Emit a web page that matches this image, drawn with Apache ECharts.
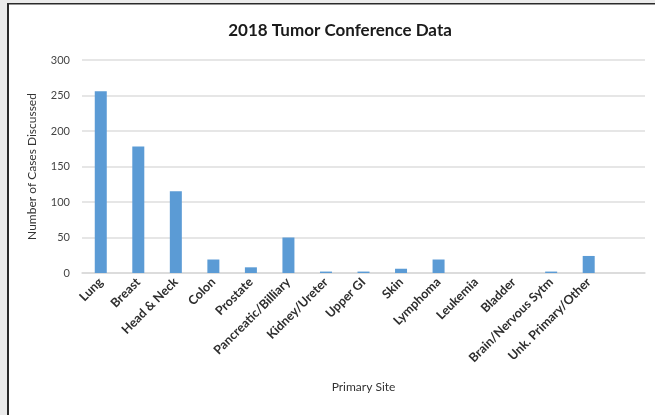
<!DOCTYPE html>
<html>
<head>
<meta charset="utf-8">
<script src="https://cdn.jsdelivr.net/npm/echarts@6/dist/echarts.min.js"></script>
<style>
  html, body { margin: 0; padding: 0; background: #fff; }
  #main { width: 655px; height: 415px; }
</style>
</head>
<body>
<div id="main"></div>
<script>
  var sites = ['Lung', 'Breast', 'Head & Neck', 'Colon', 'Prostate', 'Pancreatic/Billiary',
    'Kidney/Ureter', 'Upper GI', 'Skin', 'Lymphoma', 'Leukemia', 'Bladder',
    'Brain/Nervous Sytm', 'Unk. Primary/Other', ''];
  var cases = [256, 178, 115, 19, 8, 50, 2, 2, 6, 19, 0, 0, 2, 24, null];
  var yTicks = [0, 50, 100, 150, 200, 250, 300];

  var chart = echarts.init(document.getElementById('main'));
  var font = 'Lato, "Open Sans", sans-serif';
  var option = {
    animation: false,
    backgroundColor: '#fff',
    title: {
      text: '2018 Tumor Conference Data',
      left: 335, top: 17, textAlign: 'center',
      textStyle: { fontFamily: font, fontSize: 17, fontWeight: 'bold', color: '#1a1a1a' }
    },
    graphic: [
      { type: 'rect', shape: { x: 0, y: 0, width: 7, height: 415 }, style: { fill: '#ebebeb' } },
      { type: 'rect', shape: { x: 0, y: 0, width: 655, height: 3 }, style: { fill: '#ebebeb' } },
      { type: 'rect', shape: { x: 7, y: 3, width: 2, height: 412 }, style: { fill: '#2a2a2a' } },
      { type: 'rect', shape: { x: 7, y: 3, width: 648, height: 1.5 }, style: { fill: '#2a2a2a' } }
    ],
    grid: { left: 82, right: 10, top: 60, bottom: 142 },
    xAxis: {
      type: 'category',
      data: sites,
      name: 'Primary Site',
      nameLocation: 'middle',
      nameGap: 108,
      nameTextStyle: { fontFamily: font, fontSize: 12, color: '#333' },
      axisLine: { lineStyle: { color: '#d9d9d9', width: 1.5 } },
      axisTick: { show: false },
      axisLabel: {
        interval: 0, rotate: 45, margin: 7,
        fontFamily: font, fontSize: 12.5, fontWeight: 'bold', color: '#2e2e2e'
      }
    },
    yAxis: {
      type: 'value',
      min: yTicks[0], max: yTicks[yTicks.length - 1], interval: 50,
      name: 'Number of Cases Discussed',
      nameLocation: 'middle',
      nameGap: 44,
      nameTextStyle: { fontFamily: font, fontSize: 12, color: '#333' },
      axisLine: { show: false },
      axisTick: { show: false },
      axisLabel: { fontFamily: font, fontSize: 11, color: '#444', margin: 12 },
      splitLine: { lineStyle: { color: '#dedede', width: 1.5 } }
    },
    series: [{
      type: 'bar',
      data: cases,
      barWidth: 12,
      itemStyle: { color: '#5b9bd5' }
    }]
  };
  chart.setOption(option);
</script>
</body>
</html>
